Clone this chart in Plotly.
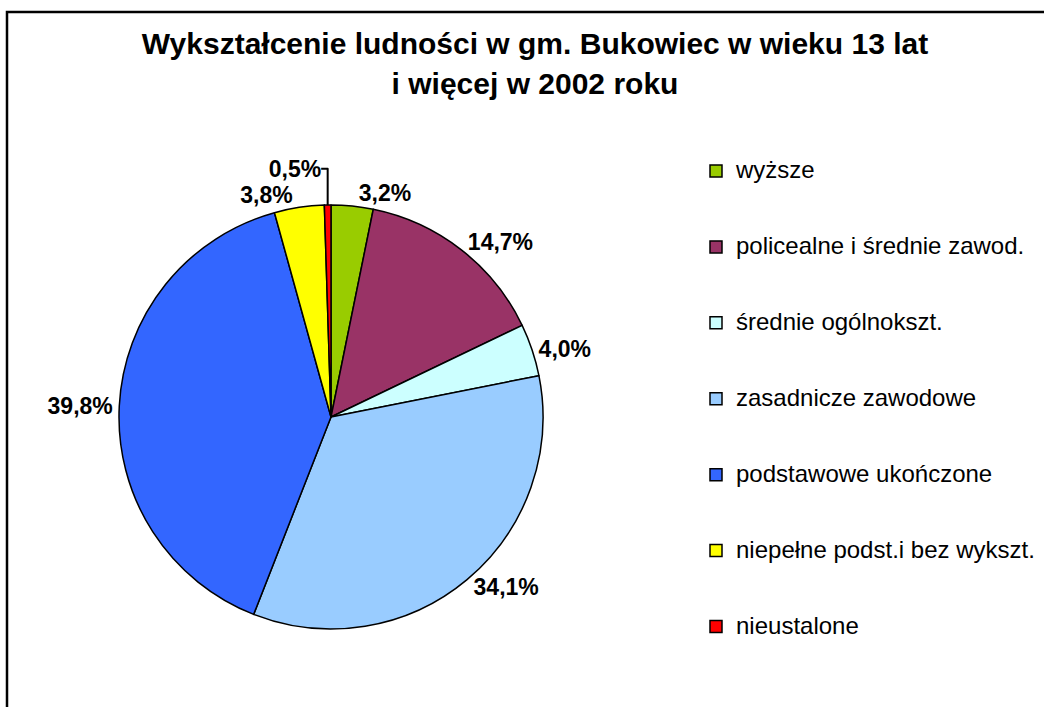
import plotly.graph_objects as go

categories = ["wyższe", "policealne i średnie zawod.", "średnie ogólnokszt.",
              "zasadnicze zawodowe", "podstawowe ukończone",
              "niepełne podst.i bez wykszt.", "nieustalone"]
values = [3.2, 14.7, 4.0, 34.1, 39.8, 3.8, 0.5]
colors = ["#99CC00", "#993366", "#CCFFFF", "#99CCFF", "#3366FF", "#FFFF00", "#FF0000"]
title_lines = ["Wykształcenie ludności w gm. Bukowiec w wieku 13 lat", "i więcej w 2002 roku"]

W, H = 1044, 707
FONT = "Arial, Liberation Sans"
text_labels = [f"{v:.1f}%".replace(".", ",") for v in values]
legend_labels = [f" <br><span style='font-size:24px'>{c}</span><br> " for c in categories]

cx, cy, r = 331, 417, 212

fig = go.Figure(go.Pie(
    labels=legend_labels,
    values=values,
    text=text_labels,
    textinfo="text",
    textposition="outside",
    sort=False,
    direction="clockwise",
    rotation=0,
    marker=dict(colors=colors, line=dict(color="black", width=1.5)),
    outsidetextfont=dict(family=FONT, size=23, color="black", weight="bold"),
    domain=dict(x=[(cx - r) / W, (cx + r) / W], y=[1 - (cy + r) / H, 1 - (cy - r) / H]),
    hoverinfo="skip",
))

title_html = "<br>".join(f"<span style='font-size:30px'>{t}</span>" for t in title_lines)

fig.update_layout(
    width=W, height=H,
    margin=dict(l=0, r=0, t=0, b=0),
    paper_bgcolor="white",
    plot_bgcolor="white",
    font=dict(family=FONT, color="black"),
    title=dict(text="<b>" + title_html + "</b>",
               x=535 / W, xanchor="center", y=1 - 54 / H, yanchor="top",
               font=dict(size=31, family=FONT, color="black")),
    legend=dict(x=696 / W, xanchor="left", y=1 - 128 / H, yanchor="top",
                font=dict(size=18.7, family=FONT, color="black"),
                valign="middle", bgcolor="rgba(0,0,0,0)"),
    showlegend=True,
    shapes=[dict(type="rect", xref="paper", yref="paper",
                 x0=7 / W, x1=1.05, y0=-0.05, y1=1 - 12 / H,
                 line=dict(color="black", width=2.5), fillcolor="rgba(0,0,0,0)")],
)

fig.write_html("out.html", config={"displayModeBar": False},
               post_script="document.body.style.margin='0';")
